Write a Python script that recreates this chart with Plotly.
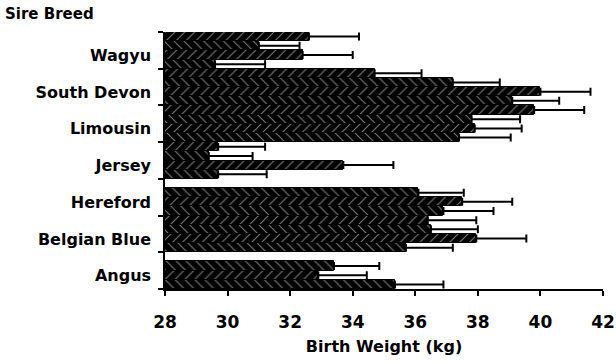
import plotly.graph_objects as go

# Sire breeds, bottom to top
breeds = ["Angus", "Belgian Blue", "Hereford", "Jersey", "Limousin", "South Devon", "Wagyu"]

# Mean birth weight (kg) per slot within each breed group; slot1 = top bar of group
slot1 = [None, 36.4, None, 29.7, 39.8, 34.7, 32.6]
slot2 = [33.4, 36.5, 36.1, 29.4, 37.8, 37.2, 31.0]
slot3 = [32.9, 37.95, 37.5, 33.7, 37.9, 40.0, 32.4]
slot4 = [35.35, 35.7, 36.9, 29.7, 37.4, 39.1, 29.6]

# Standard errors (upper error bar length, kg)
err1 = [None, 1.55, None, 1.5, 1.6, 1.5, 1.6]
err2 = [1.45, 1.5, 1.45, 1.4, 1.55, 1.5, 1.3]
err3 = [1.55, 1.6, 1.6, 1.6, 1.5, 1.6, 1.6]
err4 = [1.55, 1.5, 1.6, 1.55, 1.65, 1.5, 1.6]

x_ticks = [28, 30, 32, 34, 36, 38, 40, 42]

FONT = "DejaVu Sans"

fig = go.Figure()
# plotly places the first trace at the bottom of each group
series = [("Slot 4", slot4, err4, "\\"), ("Slot 3", slot3, err3, "/"),
          ("Slot 2", slot2, err2, "\\"), ("Slot 1", slot1, err1, "/")]
for name, vals, errs, shape in series:
    fig.add_trace(go.Bar(
        name=name, y=breeds, x=vals, orientation="h",
        marker=dict(color="black", line=dict(color="black", width=1),
                    pattern=dict(shape=shape, fgcolor="white", bgcolor="black",
                                 size=7, solidity=0.15)),
        error_x=dict(type="data", symmetric=False, array=errs,
                     arrayminus=[0 if e is not None else None for e in errs],
                     color="black", thickness=2, width=4),
        showlegend=False,
    ))

fig.update_layout(
    width=616, height=364,
    margin=dict(l=165, r=13, t=32, b=75, autoexpand=False),
    barmode="group", bargap=0, bargroupgap=0,
    plot_bgcolor="white", paper_bgcolor="white",
    font=dict(family=FONT, color="black"),
    xaxis=dict(range=[28, 42], tickvals=x_ticks, ticktext=[str(t) for t in x_ticks],
               showgrid=False, zeroline=False, showline=True, linecolor="black", linewidth=1.5,
               ticks="outside", ticklen=5, tickwidth=1.5, tickcolor="black", automargin=False,
               tickfont=dict(size=17, family=FONT, weight="bold"), ticklabelstandoff=12,
               title=dict(text="Birth Weight (kg)", font=dict(size=16, family=FONT, weight="bold"),
                          standoff=10)),
    yaxis=dict(type="category", categoryorder="array", categoryarray=breeds,
               showgrid=False, zeroline=False, showline=True, linecolor="black", linewidth=1.5,
               ticks="outside", ticklen=5, tickwidth=1.5, tickcolor="black", automargin=False,
               tickson="boundaries", tickfont=dict(size=16, family=FONT, weight="bold"),
               ticklabelstandoff=9, ticklabelshift=5),
    annotations=[dict(text="Sire Breed", xref="paper", yref="paper",
                      x=(4 - 165) / 438, y=(289 - 14) / 257, xanchor="left", yanchor="middle",
                      showarrow=False, font=dict(size=15, family=FONT, weight="bold"), borderpad=0)],
)

fig.write_html("out.html", config={"displayModeBar": False},
               post_script="document.body.style.margin='0';document.body.style.padding='0';")
